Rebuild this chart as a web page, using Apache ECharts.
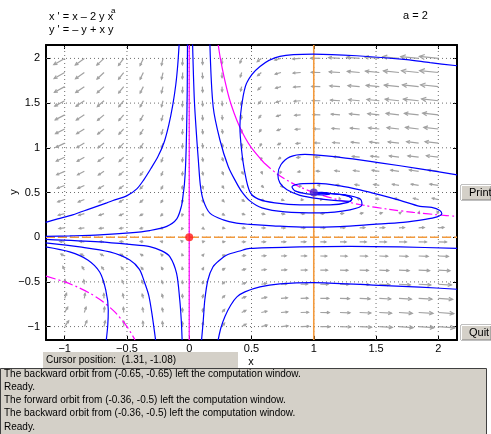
<!DOCTYPE html>
<html>
<head>
<meta charset="utf-8">
<script src="https://cdn.jsdelivr.net/npm/echarts@6/dist/echarts.min.js"></script>
<style>
  html, body { margin: 0; padding: 0; background: #fff; }
  #chart { width: 491px; height: 434px; }
</style>
</head>
<body>
<div id="chart"></div>
<script>
// window and ticks
const xRange = [-1.15, 2.15];
const yRange = [-1.15, 2.15];
const xTicks = [-1, -0.5, 0, 0.5, 1, 1.5, 2];
const yTicks = [-1, -0.5, 0, 0.5, 1, 1.5, 2];

// direction field grid (20 x 20)
const arrowXs = [-1, -0.8421, -0.6842, -0.5263, -0.3684, -0.2105, -0.0526, 0.1053, 0.2632, 0.4211,
  0.5789, 0.7368, 0.8947, 1.0526, 1.2105, 1.3684, 1.5263, 1.6842, 1.8421, 2];
const arrowYs = arrowXs.slice();
const paramA = 2;

// equilibria
const saddlePoint = [[0, 0]];
const spiralPoint = [[1, 0.5]];

// nullclines
const xNullAxis = [[0, -1.15], [0, 2.15]];
const xNullUpperSteep = [[0.233, 2.15], [0.25, 2.0], [0.28, 1.79], [0.32, 1.56], [0.36, 1.39],
  [0.4, 1.25], [0.45, 1.11], [0.5, 1.0], [0.6, 0.833]];
const xNullUpperFlat = [[0.6, 0.833], [0.7, 0.714], [0.8, 0.625], [0.9, 0.556], [1.0, 0.5],
  [1.2, 0.417], [1.4, 0.357], [1.6, 0.3125], [1.8, 0.278], [2.0, 0.25], [2.15, 0.233]];
const xNullLower = [[-1.15, -0.435], [-1.0, -0.5], [-0.9, -0.556], [-0.8, -0.625], [-0.7, -0.714],
  [-0.6, -0.833], [-0.5, -1.0], [-0.435, -1.15]];
const yNullVertical = [[1, -1.15], [1, 2.15]];
const yNullAxis = [[-1.15, 0], [2.15, 0]];

// orbits
const orbitUpLeftOuter = [[-0.081, 2.16], [-0.092, 1.929], [-0.108, 1.705], [-0.132, 1.481],
  [-0.164, 1.257], [-0.203, 1.056], [-0.252, 0.899], [-0.309, 0.765], [-0.365, 0.642],
  [-0.421, 0.541], [-0.502, 0.462], [-0.598, 0.417], [-0.662, 0.384], [-0.799, 0.317],
  [-0.936, 0.25], [-1.056, 0.205], [-1.153, 0.166]];
const orbitUpLeftInner = [[-0.014, 2.16], [-0.016, 1.65], [-0.021, 1.202], [-0.029, 0.81],
  [-0.039, 0.586], [-0.049, 0.474], [-0.062, 0.351], [-0.1, 0.205], [-0.18, 0.121],
  [-0.317, 0.074], [-0.477, 0.048], [-0.719, 0.026], [-0.96, 0.015], [-1.153, 0.009]];
const orbitUpRightInner = [[0.027, 2.16], [0.041, 1.538], [0.061, 1.09], [0.073, 0.866],
  [0.089, 0.586], [0.112, 0.418], [0.166, 0.269], [0.273, 0.194], [0.38, 0.157], [0.487, 0.143],
  [0.672, 0.127], [0.945, 0.112], [1.211, 0.119], [1.476, 0.143], [1.717, 0.166], [1.894, 0.199],
  [1.99, 0.227], [2.028, 0.261], [2.012, 0.3], [1.947, 0.334], [1.853, 0.345], [1.693, 0.412],
  [1.532, 0.474], [1.371, 0.53], [1.211, 0.574], [1.034, 0.602], [0.889, 0.597], [0.825, 0.563],
  [0.849, 0.518], [0.945, 0.485], [1.066, 0.474], [1.13, 0.485], [1.066, 0.502], [0.998, 0.499]];
const orbitUpRightOuter = [[0.166, 2.16], [0.192, 1.462], [0.246, 1.09], [0.313, 0.791],
  [0.375, 0.619], [0.423, 0.507], [0.487, 0.406], [0.584, 0.328], [0.768, 0.283], [1.05, 0.272],
  [1.291, 0.306], [1.387, 0.362], [1.371, 0.429], [1.251, 0.474], [1.09, 0.49], [0.998, 0.499]];
const orbitTopLoop = [[2.151, 1.918], [1.934, 1.952], [1.747, 1.986], [1.345, 2.03], [0.996, 2.049],
  [0.728, 2.022], [0.568, 1.91], [0.461, 1.724], [0.42, 1.462], [0.407, 1.239], [0.42, 0.978],
  [0.447, 0.72], [0.487, 0.507], [0.551, 0.429], [0.688, 0.384], [0.889, 0.362], [1.13, 0.362],
  [1.275, 0.39], [1.307, 0.429], [1.251, 0.468], [1.13, 0.49], [0.998, 0.499]];
const orbitMidLoop = [[2.151, 0.698], [1.853, 0.765], [1.532, 0.832], [1.211, 0.894], [0.929, 0.927],
  [0.809, 0.899], [0.736, 0.81], [0.712, 0.697], [0.728, 0.608], [0.785, 0.53], [0.889, 0.468],
  [1.05, 0.429], [1.211, 0.406], [1.291, 0.401], [1.307, 0.429], [1.251, 0.47], [1.1, 0.492],
  [0.998, 0.499]];
const orbitLowLeftInner = [[-1.153, -0.025], [-0.719, -0.053], [-0.477, -0.081], [-0.317, -0.105],
  [-0.22, -0.153], [-0.156, -0.217], [-0.102, -0.403], [-0.076, -0.702], [-0.064, -0.926],
  [-0.057, -1.151]];
const orbitLowLeftMid = [[-1.153, -0.064], [-0.879, -0.109], [-0.638, -0.165], [-0.477, -0.255],
  [-0.4, -0.36], [-0.36, -0.5], [-0.325, -0.65], [-0.3, -0.85], [-0.27, -1.151]];
const orbitLowLeftOuter = [[-1.153, -0.109], [-0.96, -0.165], [-0.815, -0.255], [-0.719, -0.39],
  [-0.67, -0.591], [-0.65, -0.815], [-0.654, -0.983], [-0.666, -1.151]];
const orbitLowRightInner = [[0.099, -1.151], [0.113, -0.927], [0.125, -0.703], [0.15, -0.479],
  [0.19, -0.333], [0.246, -0.255], [0.302, -0.199], [0.407, -0.154], [0.487, -0.126],
  [0.889, -0.109], [1.291, -0.103], [1.693, -0.109], [2.151, -0.125]];
const orbitLowRightOuter = [[0.232, -1.151], [0.254, -1.016], [0.286, -0.889], [0.334, -0.758],
  [0.383, -0.668], [0.447, -0.612], [0.568, -0.556], [0.728, -0.523], [0.994, -0.508],
  [1.476, -0.537], [1.853, -0.559], [2.151, -0.582]];

const orbits = [orbitUpLeftOuter, orbitUpLeftInner, orbitUpRightInner, orbitUpRightOuter,
  orbitTopLoop, orbitMidLoop, orbitLowLeftInner, orbitLowLeftMid, orbitLowLeftOuter,
  orbitLowRightInner, orbitLowRightOuter];

const messages = [
  'The backward orbit from (-0.65, -0.65) left the computation window.',
  'Ready.',
  'The forward orbit from (-0.36, -0.5) left the computation window.',
  'The backward orbit from (-0.36, -0.5) left the computation window.',
  'Ready.'
];

const FONT = 'Liberation Sans, Arial, sans-serif';
const chart = echarts.init(document.getElementById('chart'));

const arrowData = [];
arrowYs.forEach(y => arrowXs.forEach(x => arrowData.push([x, y])));

function gridLine(data) {
  return { type: 'line', data, symbol: 'none', silent: true, z: 1,
    lineStyle: { color: '#6f6f6f', width: 1, type: [1, 3] } };
}
function curve(data, color, type, z, width) {
  return { type: 'line', data, symbol: 'none', smooth: 0.3, clip: true, silent: true, z,
    lineStyle: { color, width: width || 1.2, type } };
}

const series = [];
xTicks.forEach(t => series.push(gridLine([[t, yRange[0]], [t, yRange[1]]])));
yTicks.forEach(t => series.push(gridLine([[xRange[0], t], [xRange[1], t]])));

// direction field: the system printed in the caption, x' = x - 2 y x^a, y' = -y + x y
series.push({
  type: 'custom', data: arrowData, silent: true, z: 2, clip: true,
  renderItem(params, api) {
    const x = api.value(0), y = api.value(1);
    const vx = x - 2 * y * Math.pow(x, paramA);
    const vy = -y + x * y;
    const s = api.size([1, 1]);
    const sx = vx * s[0], sy = -vy * s[1];
    const m = Math.hypot(sx, sy);
    if (m < 1e-6) return null;
    const len = Math.min(19, Math.max(2, 0.47 * Math.sqrt(m)));
    const ux = sx / m, uy = sy / m;
    const p = api.coord([x, y]);
    const hx = p[0] + ux * len, hy = p[1] + uy * len;
    const hl = Math.max(2.5, 0.3 * len);
    const c = Math.cos(0.45), sn = Math.sin(0.45);
    const bx = -ux, by = -uy;
    const b1 = [hx + hl * (bx * c - by * sn), hy + hl * (bx * sn + by * c)];
    const b2 = [hx + hl * (bx * c + by * sn), hy + hl * (-bx * sn + by * c)];
    const style = { stroke: '#a2a2a2', lineWidth: 1.2, fill: null };
    return { type: 'group', children: [
      { type: 'line', shape: { x1: p[0], y1: p[1], x2: hx, y2: hy }, style },
      { type: 'polyline', shape: { points: [b1, [hx, hy], b2] }, style }
    ] };
  }
});

series.push(curve(xNullAxis, '#ff00ff', 'solid', 3));
series.push(curve(xNullUpperSteep, '#ff00ff', 'solid', 3));
series.push(curve(xNullUpperFlat, '#ff00ff', [9, 3, 2, 3], 3));
series.push(curve(xNullLower, '#ff00ff', [10, 3, 2, 3], 3));
series.push(curve(yNullVertical, '#f39a3c', 'solid', 3, 1.6));
series.push(curve(yNullAxis, '#f39a3c', [9, 3], 3, 1.4));
orbits.forEach(o => series.push(curve(o, '#0000ff', 'solid', 4)));

series.push({ type: 'scatter', data: saddlePoint, symbolSize: 8, z: 6, silent: true,
  itemStyle: { color: '#ff1a1a' } });
series.push({ type: 'scatter', data: spiralPoint, symbolSize: 8, z: 6, silent: true,
  itemStyle: { color: '#4a26d0' } });

const minus = v => String(v).replace('-', '\u2212');
const tickStyle = { inside: true, length: 4, lineStyle: { color: '#000', width: 1 } };
const axisLine = { show: true, onZero: false, lineStyle: { color: '#000', width: 2 } };

function button(x, y, label) {
  return [
    { type: 'rect', shape: { x, y, width: 30, height: 15 },
      style: { fill: '#d4d0c8', stroke: '#808080', lineWidth: 1 } },
    { type: 'polyline', shape: { points: [[x + 0.5, y + 15], [x + 0.5, y + 0.5], [x + 30, y + 0.5]] },
      style: { stroke: '#ffffff', lineWidth: 1, fill: null } },
    { type: 'text', x: x + 8, y: y + 8, style: { text: label, font: '11px ' + FONT,
      fill: '#000', verticalAlign: 'middle' } }
  ];
}

const graphics = [
  { type: 'text', x: 49, y: 17, style: { text: "x ' = x \u2013 2 y x", font: '11px ' + FONT,
    fill: '#000', verticalAlign: 'middle' } },
  { type: 'text', x: 111, y: 11, style: { text: 'a', font: '8px ' + FONT, fill: '#000',
    verticalAlign: 'middle' } },
  { type: 'text', x: 49, y: 30, style: { text: "y ' = \u2013 y + x y", font: '11px ' + FONT,
    fill: '#000', verticalAlign: 'middle' } },
  { type: 'text', x: 403, y: 16, style: { text: 'a = ' + paramA, font: '11px ' + FONT,
    fill: '#000', verticalAlign: 'middle' } },
  { type: 'text', x: 14, y: 192, rotation: Math.PI / 2, style: { text: 'y', font: '11px ' + FONT,
    fill: '#000', align: 'center', verticalAlign: 'middle' } },
  { type: 'text', x: 251, y: 362, style: { text: 'x', font: '11px ' + FONT, fill: '#000',
    align: 'center', verticalAlign: 'middle' } },
  { type: 'rect', shape: { x: 43, y: 352, width: 195, height: 16 }, style: { fill: '#d4d0c8' } },
  { type: 'text', x: 46, y: 360, style: { text: 'Cursor position:  (1.31, -1.08)',
    font: '10px ' + FONT, fill: '#000', verticalAlign: 'middle' } },
  { type: 'rect', shape: { x: 0.5, y: 368.5, width: 486, height: 66 },
    style: { fill: '#d4d0c8', stroke: '#404040', lineWidth: 1 } },
  ...messages.map((m, i) => ({ type: 'text', x: 4, y: 374 + i * 13.2,
    style: { text: m, font: '10px ' + FONT, fill: '#000', verticalAlign: 'middle' } })),
  ...button(461, 185, 'Print'),
  ...button(461, 325, 'Quit')
];

chart.setOption({
  animation: false,
  backgroundColor: '#ffffff',
  grid: { left: 46, top: 45, width: 411, height: 295, containLabel: false, outerBoundsMode: 'none' },
  xAxis: [
    { type: 'value', min: xRange[0], max: xRange[1], position: 'bottom', axisLine,
      splitLine: { show: false },
      axisTick: Object.assign({ customValues: xTicks }, tickStyle),
      axisLabel: { customValues: xTicks, formatter: minus, color: '#000', fontSize: 11,
        fontFamily: FONT, margin: 3 } },
    { type: 'value', min: xRange[0], max: xRange[1], position: 'top', axisLine,
      splitLine: { show: false },
      axisTick: Object.assign({ customValues: xTicks }, tickStyle),
      axisLabel: { show: false } }
  ],
  yAxis: [
    { type: 'value', min: yRange[0], max: yRange[1], position: 'left', axisLine,
      splitLine: { show: false },
      axisTick: Object.assign({ customValues: yTicks }, tickStyle),
      axisLabel: { customValues: yTicks, formatter: minus, color: '#000', fontSize: 11,
        fontFamily: FONT, margin: 6 } },
    { type: 'value', min: yRange[0], max: yRange[1], position: 'right', axisLine,
      splitLine: { show: false },
      axisTick: Object.assign({ customValues: yTicks }, tickStyle),
      axisLabel: { show: false } }
  ],
  series,
  graphic: graphics
});
</script>
</body>
</html>
